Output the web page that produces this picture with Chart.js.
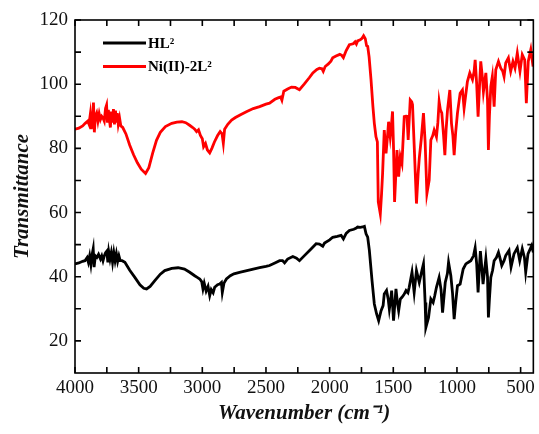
<!DOCTYPE html>
<html>
<head>
<meta charset="utf-8">
<script src="https://cdn.jsdelivr.net/npm/chart.js@4/dist/chart.umd.min.js"></script>
<style>
html,body{margin:0;padding:0;background:#fff;}
#wrap{width:539px;height:434px;}
</style>
</head>
<body>
<div id="wrap"><canvas id="c" width="539" height="434"></canvas></div>
<script>
// ---- Data ----
const seriesLabels = ['HL²', 'Ni(II)-2L²'];
const xTickLabels = [4000, 3500, 3000, 2500, 2000, 1500, 1000, 500];
const yTickLabels = [20, 40, 60, 80, 100, 120];

const wnBlack = [4000,3970,3940,3922,3905,3895,3885,3875,3865,3857,3850,3840,3828,3815,3800,3790,3780,3770,3760,3750,3742,3735,3725,3715,3705,3695,3685,3675,3665,3655,3645,3630,3608,3570,3530,3490,3460,3438,3410,3373,3330,3295,3240,3190,3140,3099,3060,3040,3020,3005,2995,2985,2970,2955,2942,2930,2915,2903,2880,2864,2850,2843,2830,2811,2780,2752,2700,2650,2600,2550,2500,2472,2430,2393,2370,2354,2330,2289,2260,2237,2200,2150,2106,2080,2054,2040,2000,1976,1940,1910,1892,1870,1845,1810,1790,1780,1760,1741,1727,1714,1701,1688,1667,1649,1631,1615,1596,1580,1571,1553,1540,1531,1520,1513,1498,1479,1468,1458,1445,1432,1415,1400,1385,1375,1353,1336,1318,1296,1275,1263,1250,1244,1223,1205,1187,1175,1161,1140,1125,1113,1092,1075,1066,1048,1035,1022,1010,996,975,951,930,910,891,870,857,845,834,825,816,805,795,773,760,753,745,734,720,708,690,674,660,648,630,617,591,575,552,526,507,487,470,460,442,413,400];
const tBlack = [44.0,44.3,44.8,45.0,46.0,44.5,46.5,43.8,47.0,48.7,43.0,46.5,46.0,47.0,45.5,46.5,45.0,46.5,47.5,48.0,44.5,47.8,45.5,47.5,44.5,47.5,45.0,47.2,44.8,46.5,45.0,45.0,44.5,42.0,39.8,37.5,36.4,36.2,37.0,38.8,40.8,41.9,42.6,42.8,42.4,41.4,40.3,39.8,39.3,38.5,36.2,38.0,35.5,37.0,34.1,36.0,35.0,36.7,37.5,37.7,38.2,35.1,38.0,39.3,40.3,40.9,41.4,41.9,42.4,42.8,43.2,43.5,44.3,45.0,45.0,44.3,45.5,46.3,45.8,45.0,46.5,48.5,50.3,50.2,49.5,50.5,51.5,52.3,52.6,52.9,51.8,53.5,54.4,54.8,55.2,55.5,55.4,55.5,55.7,53.4,52.3,48.2,38.8,31.5,28.4,26.3,29.4,31.0,34.6,35.7,33.0,29.9,33.0,35.7,26.3,36.2,32.0,29.4,33.0,33.6,34.5,35.7,35.0,36.7,41.4,35.1,41.9,38.2,42.0,44.0,32.0,24.2,27.3,33.1,32.0,34.0,36.7,39.8,36.0,28.8,38.2,41.0,44.5,40.3,35.0,26.8,32.0,37.2,37.7,42.4,44.0,44.5,45.0,46.5,49.0,44.0,35.1,42.0,48.0,43.0,37.7,45.6,40.0,27.3,33.0,39.8,42.0,45.0,46.0,47.6,45.5,43.5,45.0,46.6,48.2,43.0,47.1,49.0,45.0,48.7,46.0,41.4,47.1,49.7,47.6];

const wnRed = [4000,3970,3940,3920,3900,3890,3880,3872,3862,3855,3848,3840,3830,3820,3810,3800,3790,3780,3770,3760,3752,3745,3738,3730,3722,3715,3705,3698,3690,3682,3675,3668,3660,3650,3640,3625,3600,3570,3540,3510,3480,3446,3420,3390,3360,3330,3290,3240,3200,3160,3130,3100,3075,3060,3045,3030,3015,3000,2990,2975,2960,2942,2925,2905,2880,2860,2845,2835,2825,2800,2770,2740,2700,2650,2600,2550,2500,2472,2430,2400,2385,2375,2360,2330,2300,2270,2237,2200,2160,2132,2100,2080,2060,2050,2035,2010,1990,1976,1950,1920,1905,1892,1870,1845,1815,1800,1790,1780,1760,1745,1733,1720,1710,1701,1690,1675,1660,1649,1636,1625,1618,1602,1592,1584,1571,1564,1557,1545,1537,1524,1515,1506,1498,1490,1480,1471,1458,1445,1432,1414,1400,1393,1383,1367,1355,1349,1335,1318,1305,1296,1280,1263,1250,1236,1218,1205,1190,1179,1161,1150,1140,1130,1119,1105,1095,1085,1074,1056,1043,1032,1022,1010,996,975,957,944,930,918,899,878,865,857,845,834,822,813,800,792,773,760,753,745,734,722,708,695,674,656,640,630,617,596,585,578,560,544,526,505,487,468,455,440,420,402];
const tRed = [86.0,86.3,87.0,87.8,88.5,87.5,90.5,86.0,89.5,94.3,85.0,90.0,91.0,88.5,90.8,89.0,90.0,89.5,88.5,92.5,93.5,88.0,92.0,89.0,86.5,91.5,88.0,92.2,87.5,91.8,88.0,91.0,87.5,89.5,87.0,86.5,84.5,81.0,78.0,75.5,73.5,72.2,74.0,78.5,82.5,85.0,86.8,87.8,88.2,88.3,88.0,87.2,86.5,86.0,85.2,85.8,84.0,83.0,80.5,81.5,79.5,78.6,80.0,82.0,84.0,85.2,84.5,81.6,86.0,87.5,88.8,89.6,90.5,91.5,92.4,93.0,93.8,94.1,95.3,95.8,96.0,95.0,97.8,98.5,99.1,99.0,98.3,100.0,102.0,103.5,104.6,105.0,104.8,104.0,105.5,106.3,107.2,108.2,108.8,109.3,109.0,108.3,110.5,112.3,112.6,113.2,112.5,113.5,113.8,114.3,115.1,114.2,112.0,111.8,108.5,101.4,93.0,87.8,83.6,82.0,63.3,59.6,66.0,72.2,85.7,82.0,78.4,84.0,88.3,83.6,87.0,91.5,80.0,63.3,72.0,79.5,71.2,77.4,75.3,89.9,90.0,90.4,82.6,95.1,94.5,93.6,80.0,62.8,72.0,76.9,83.0,91.0,82.0,65.9,70.1,82.6,84.0,85.7,83.6,88.0,94.6,92.0,91.0,84.0,77.9,86.0,92.0,98.2,87.8,84.0,77.9,85.0,91.0,97.2,98.2,92.5,97.0,100.8,103.5,101.4,104.0,107.6,100.0,89.9,100.0,107.1,102.0,97.7,103.5,95.0,79.5,90.0,99.3,102.4,93.0,104.5,107.1,105.0,104.0,102.4,106.6,108.2,105.5,104.0,107.1,105.0,109.7,104.0,109.2,107.6,94.1,107.1,110.8,105.5];

const colors = ['#000000', '#ff0000'];

const toPts = (xs, ys) => xs.map((x, i) => ({x: x, y: ys[i]}));

const FONT = "'Liberation Serif', 'Times New Roman', serif";

// frame with inward ticks on all four sides
const framePlugin = {
  id: 'frame',
  afterDraw(chart) {
    const {ctx, chartArea: a, scales} = chart;
    const xs = scales.x, ys = scales.y;
    ctx.save();
    ctx.strokeStyle = '#000';
    ctx.lineWidth = 1.6;
    ctx.strokeRect(a.left, a.top, a.right - a.left, a.bottom - a.top);
    const len = 6;
    ctx.beginPath();
    for (let v = 500; v <= 4000; v += 250) {
      const px = xs.getPixelForValue(v);
      ctx.moveTo(px, a.bottom); ctx.lineTo(px, a.bottom - len);
      ctx.moveTo(px, a.top); ctx.lineTo(px, a.top + len);
    }
    for (let v = 20; v <= 120; v += 10) {
      const py = ys.getPixelForValue(v);
      ctx.moveTo(a.left, py); ctx.lineTo(a.left + len, py);
      ctx.moveTo(a.right, py); ctx.lineTo(a.right - len, py);
    }
    ctx.stroke();
    ctx.restore();
  }
};

// legend drawn inside the plot
const legendPlugin = {
  id: 'inlegend',
  afterDraw(chart) {
    const ctx = chart.ctx;
    ctx.save();
    ctx.font = 'bold 15px ' + FONT;
    ctx.textBaseline = 'middle';
    chart.data.datasets.forEach((ds, i) => {
      const y = 43 + i * 23.5;
      ctx.strokeStyle = ds.borderColor;
      ctx.lineWidth = 3;
      ctx.beginPath();
      ctx.moveTo(103, y); ctx.lineTo(146, y);
      ctx.stroke();
      ctx.fillStyle = '#000';
      ctx.fillText(ds.label, 148, y + 1);
    });
    ctx.restore();
  }
};

new Chart(document.getElementById('c'), {
  type: 'line',
  data: {
    datasets: [
      {label: seriesLabels[0], data: toPts(wnBlack, tBlack), borderColor: colors[0], borderWidth: 2.8, pointRadius: 0, tension: 0, fill: false},
      {label: seriesLabels[1], data: toPts(wnRed, tRed), borderColor: colors[1], borderWidth: 2.8, pointRadius: 0, tension: 0, fill: false}
    ]
  },
  options: {
    responsive: false,
    animation: false,
    devicePixelRatio: 1,
    layout: {padding: {left: 0, right: 5, top: 20, bottom: 0}},
    plugins: {legend: {display: false}, tooltip: {enabled: false}},
    scales: {
      x: {
        type: 'linear', reverse: true, min: 400, max: 4000,
        afterBuildTicks: (s) => { s.ticks = xTickLabels.map(v => ({value: v})); },
        afterFit: (s) => { s.height = 61; },
        grid: {display: false, drawTicks: false}, border: {display: false},
        ticks: {color: '#111', font: {family: FONT, size: 19}, padding: 4, maxRotation: 0, autoSkip: false, callback: (v) => String(v)},
        title: {display: true, text: 'Wavenumber (cm⁻¹)', color: '#111', font: {family: FONT, size: 21, weight: 'bold', style: 'italic'}, padding: {top: 0, bottom: 8}}
      },
      y: {
        type: 'linear', min: 10, max: 120,
        afterBuildTicks: (s) => { s.ticks = yTickLabels.map(v => ({value: v})); },
        afterFit: (s) => { s.width = 75; },
        grid: {display: false, drawTicks: false}, border: {display: false},
        ticks: {color: '#111', font: {family: FONT, size: 19}, padding: 7, callback: (v) => String(v)},
        title: {display: true, text: 'Transmittance', color: '#111', font: {family: FONT, size: 21, weight: 'bold', style: 'italic'}, padding: {top: 10, bottom: 0}}
      }
    }
  },
  plugins: [framePlugin, legendPlugin]
});
</script>
</body>
</html>
